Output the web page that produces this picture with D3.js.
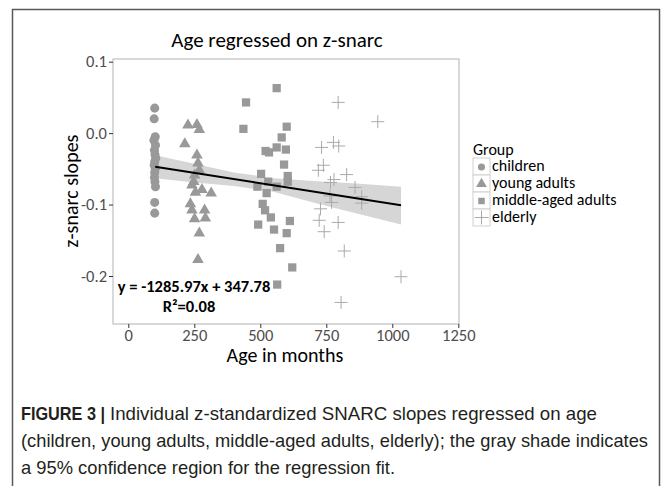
<!DOCTYPE html>
<html lang="en">
<head>
    <meta charset="UTF-8">
    <title>Age regressed on z-snarc</title>
    <script src="https://d3js.org/d3.v7.min.js"></script>
    <style>
        body { margin: 0; background: #fff; }
        .plot-text { font-family: Carlito, Lato, "Open Sans", sans-serif; }
        .caption { font-family: "Liberation Sans Narrow", "Liberation Sans", sans-serif; font-size: 19px; fill: #231f20; }
        .domain { display: none; }
    </style>
</head>
<body>
<svg width="672" height="486"></svg>
<script>
// ages (months) and z-snarc slopes
const childAge = [100, 98, 102, 97, 103, 99, 101, 104, 100, 98, 102, 100, 99, 101, 103, 100, 100];
const childZ   = [0.035, 0.020, -0.005, -0.010, -0.017, -0.024, -0.030, -0.035, -0.040, -0.045, -0.050, -0.055, -0.062, -0.068, -0.075, -0.097, -0.112];

const youngAge = [226, 260, 269, 214, 260, 264, 269, 251, 248, 241, 279, 314, 254, 235, 241, 289, 251, 292, 269, 264];
const youngZ   = [0.011, 0.012, 0.005, -0.015, -0.031, -0.042, -0.052, -0.059, -0.068, -0.073, -0.079, -0.084, -0.083, -0.099, -0.108, -0.108, -0.120, -0.119, -0.140, -0.177];

const middleAge = [562, 446, 436, 600, 581, 562, 597, 520, 533, 590, 503, 604, 604, 530, 489, 562, 524, 509, 518, 540, 492, 612, 552, 600, 575, 621, 564];
const middleZ   = [0.063, 0.043, 0.006, 0.009, -0.006, -0.020, -0.023, -0.025, -0.027, -0.044, -0.057, -0.060, -0.068, -0.068, -0.075, -0.075, -0.084, -0.099, -0.108, -0.118, -0.128, -0.123, -0.135, -0.140, -0.161, -0.188, -0.212];

const elderAge = [795, 945, 732, 777, 797, 739, 720, 827, 779, 766, 859, 884, 884, 764, 770, 728, 723, 795, 742, 818, 1033, 806];
const elderZ   = [0.043, 0.016, -0.020, -0.013, -0.018, -0.045, -0.052, -0.058, -0.065, -0.069, -0.076, -0.089, -0.098, -0.088, -0.097, -0.106, -0.122, -0.125, -0.138, -0.165, -0.201, -0.237];

// regression fit and its 95% band
const fitAge = [102, 1033];
const fitZ   = [-0.047, -0.101];
const bandAge   = [102, 250, 400, 550, 700, 850, 1033];
const bandUpper = [-0.031, -0.043, -0.055, -0.063, -0.067, -0.070, -0.075];
const bandLower = [-0.063, -0.069, -0.074, -0.082, -0.097, -0.111, -0.128];

const groups = ['children', 'young adults', 'middle-aged adults', 'elderly'];
const xTicks = [0, 250, 500, 750, 1000, 1250];
const yTicks = [0.1, 0.0, -0.1, -0.2];

const captionLines = [
    'Individual z-standardized SNARC slopes regressed on age',
    '(children, young adults, middle-aged adults, elderly); the gray shade indicates',
    'a 95% confidence region for the regression fit.'
];

const svg = d3.select('svg');

// outer figure frame
svg.append('path')
    .attr('d', 'M12.5,486 V9.5 H659.5 V486')
    .attr('fill', 'none')
    .attr('stroke', '#58595b')
    .attr('stroke-width', 1.5);

const panel = {left: 113, right: 459, top: 59, bottom: 324};

const x = d3.scaleLinear().domain([0, 1250]).range([128.3, 458.3]);
const y = d3.scaleLinear().domain([0.1, -0.2]).range([61.7, 276]);

svg.append('rect')
    .attr('x', panel.left).attr('y', panel.top)
    .attr('width', panel.right - panel.left)
    .attr('height', panel.bottom - panel.top)
    .attr('fill', '#fff')
    .attr('stroke', '#b3b3b3');

// confidence band
const band = bandAge.map((a, i) => ({a, lo: bandLower[i], hi: bandUpper[i]}));
svg.append('path')
    .datum(band)
    .attr('fill', '#cfcfcf')
    .attr('opacity', 0.85)
    .attr('d', d3.area().x(d => x(d.a)).y0(d => y(d.lo)).y1(d => y(d.hi)));

// points
const gray = '#999999';
const pts = svg.append('g');
const sym = {
    circle: d3.symbol().type(d3.symbolCircle).size(64),
    triangle: d3.symbol().type(d3.symbolTriangle).size(58),
    square: d3.symbol().type(d3.symbolSquare).size(68)
};

function drawGroup(ages, zs, shape) {
    const data = ages.map((a, i) => ({a, z: zs[i]}));
    if (shape === 'plus') {
        pts.selectAll(null).data(data).enter().append('path')
            .attr('transform', d => `translate(${x(d.a)},${y(d.z)})`)
            .attr('d', 'M-6.5,0 H6.5 M0,-6.5 V6.5')
            .attr('stroke', '#aaaaaa')
            .attr('stroke-width', 1)
            .attr('fill', 'none');
        return;
    }
    pts.selectAll(null).data(data).enter().append('path')
        .attr('transform', d => `translate(${x(d.a)},${y(d.z)})`)
        .attr('d', sym[shape])
        .attr('fill', gray);
}
drawGroup(childAge, childZ, 'circle');
drawGroup(youngAge, youngZ, 'triangle');
drawGroup(middleAge, middleZ, 'square');
drawGroup(elderAge, elderZ, 'plus');

// fit line
svg.append('path')
    .datum(fitAge.map((a, i) => ({a, z: fitZ[i]})))
    .attr('fill', 'none')
    .attr('stroke', '#000')
    .attr('stroke-width', 2)
    .attr('d', d3.line().x(d => x(d.a)).y(d => y(d.z)));

// axes
function styleAxis(g) {
    g.attr('font-family', null).attr('font-size', null);
    g.selectAll('.tick line').attr('stroke', '#333');
    g.selectAll('.tick text').attr('fill', '#4d4d4d').attr('font-size', 16.5);
}

svg.append('g')
    .attr('class', 'plot-text')
    .attr('transform', `translate(${panel.left},0)`)
    .call(d3.axisLeft(y).tickValues(yTicks).tickSize(4).tickPadding(2)
        .tickFormat(d => d.toFixed(1)))
    .call(styleAxis);

svg.append('g')
    .attr('class', 'plot-text')
    .attr('transform', `translate(0,${panel.bottom})`)
    .call(d3.axisBottom(x).tickValues(xTicks).tickSize(4).tickPadding(1)
        .tickFormat(d3.format('d')))
    .call(styleAxis);

// titles
svg.append('text').attr('class', 'plot-text')
    .attr('x', 277).attr('y', 47)
    .attr('text-anchor', 'middle')
    .attr('font-size', 21)
    .text('Age regressed on z-snarc');

svg.append('text').attr('class', 'plot-text')
    .attr('x', 285).attr('y', 362)
    .attr('text-anchor', 'middle')
    .attr('font-size', 20)
    .text('Age in months');

svg.append('text').attr('class', 'plot-text')
    .attr('transform', 'translate(78,191) rotate(-90)')
    .attr('text-anchor', 'middle')
    .attr('font-size', 20)
    .text('z-snarc slopes');

// equation
svg.append('text').attr('class', 'plot-text')
    .attr('x', 194).attr('y', 292)
    .attr('text-anchor', 'middle')
    .attr('font-size', 16.5).attr('font-weight', 'bold')
    .text('y = -1285.97x + 347.78');
svg.append('text').attr('class', 'plot-text')
    .attr('x', 189).attr('y', 312)
    .attr('text-anchor', 'middle')
    .attr('font-size', 16.5).attr('font-weight', 'bold')
    .text('R²=0.08');

// legend
const legend = svg.append('g').attr('class', 'plot-text')
    .attr('transform', 'translate(473,142)');
legend.append('text').attr('x', 0).attr('y', 13)
    .attr('font-size', 16).text('Group');
const keyShapes = ['circle', 'triangle', 'square', 'plus'];
const keyTypes = {circle: d3.symbolCircle, triangle: d3.symbolTriangle, square: d3.symbolSquare};
const keySizes = {circle: 40, triangle: 50, square: 42};
const keys = legend.selectAll('.key').data(groups).enter().append('g')
    .attr('class', 'key')
    .attr('transform', (d, i) => `translate(0,${16 + i * 17})`);
keys.append('rect')
    .attr('width', 17).attr('height', 17)
    .attr('fill', '#fff').attr('stroke', '#d0d0d0');
keys.each(function(d, i) {
    const g = d3.select(this);
    const s = keyShapes[i];
    if (s === 'plus') {
        g.append('path').attr('d', 'M1.5,8.5 H15.5 M8.5,1.5 V15.5')
            .attr('stroke', '#aaaaaa').attr('fill', 'none');
    } else {
        g.append('path')
            .attr('transform', 'translate(8.5,9)')
            .attr('d', d3.symbol().type(keyTypes[s]).size(keySizes[s]))
            .attr('fill', gray);
    }
});
keys.append('text')
    .attr('x', 19).attr('y', 13)
    .attr('font-size', 16)
    .text(d => d);

// caption (condensed face squeezed to the reference widths)
const capY = [420, 447, 474];
const capWidths = [576, 627, 374];
svg.append('text').attr('class', 'caption')
    .attr('x', 21).attr('y', capY[0])
    .attr('font-weight', 'bold')
    .attr('textLength', 84).attr('lengthAdjust', 'spacingAndGlyphs')
    .text('FIGURE 3 |');
svg.append('text').attr('class', 'caption')
    .attr('x', 110).attr('y', capY[0])
    .attr('textLength', capWidths[0] - 89).attr('lengthAdjust', 'spacingAndGlyphs')
    .text(captionLines[0]);
svg.append('text').attr('class', 'caption')
    .attr('x', 21).attr('y', capY[1])
    .attr('textLength', capWidths[1]).attr('lengthAdjust', 'spacingAndGlyphs')
    .text(captionLines[1]);
svg.append('text').attr('class', 'caption')
    .attr('x', 21).attr('y', capY[2])
    .attr('textLength', capWidths[2]).attr('lengthAdjust', 'spacingAndGlyphs')
    .text(captionLines[2]);
</script>
</body>
</html>
